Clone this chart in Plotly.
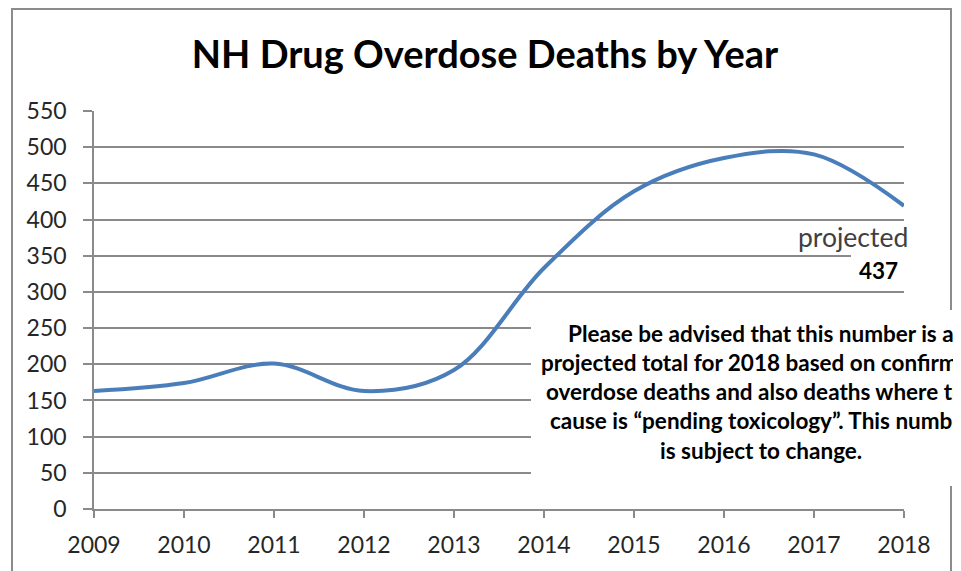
import plotly.graph_objects as go

# ---- data ----
years = [2009, 2010, 2011, 2012, 2013, 2014, 2015, 2016, 2017, 2018]
deaths = [163, 174, 201, 163, 192, 333, 439, 485, 490, 419]
y_ticks = list(range(0, 551, 50))
title_text = "NH Drug Overdose Deaths by Year"
note_lines = [
    "Please be advised that this number is a",
    "projected total for 2018 based on confirmed",
    "overdose deaths and also deaths where the",
    "cause is \u201cpending toxicology\u201d. This number",
    "is subject to change.",
]
projected_label = "projected"
projected_value = "437"

# ---- layout geometry (pixels, in reference-window coordinates) ----
OFF = 8  # page body margin
W, H = 961 - OFF, 571 - OFF
L, R, T, B = 94, 904, 111, 509


def px_x(p):
    return (p - L) / (R - L)


def px_y(p):
    return (B - p) / (B - T)


GRID = "#8a8a8a"
FONT = "Lato"

fig = go.Figure()
fig.add_trace(go.Scatter(
    x=years, y=deaths, mode="lines",
    line=dict(color="#4a7ebb", width=4, shape="spline", smoothing=1.0),
    hoverinfo="skip", showlegend=False,
))

shapes = [
    # outer chart border
    dict(type="rect", xref="paper", yref="paper", layer="above",
         x0=px_x(12), x1=px_x(951), y0=px_y(590), y1=px_y(9),
         line=dict(color="#8c8c8c", width=2), fillcolor="rgba(0,0,0,0)"),
    # white note box
    dict(type="rect", xref="paper", yref="paper", layer="above",
         x0=px_x(531), x1=px_x(975), y0=px_y(486), y1=px_y(310),
         line=dict(width=0), fillcolor="white"),
    # white box behind value label
    dict(type="rect", xref="paper", yref="paper", layer="above",
         x0=px_x(851), x1=px_x(910), y0=px_y(287), y1=px_y(248),
         line=dict(width=0), fillcolor="white"),
]

annotations = [
    dict(text=projected_label, xref="paper", yref="paper", x=px_x(853), y=px_y(237),
         xanchor="center", yanchor="middle", showarrow=False,
         font=dict(family=FONT, size=26.5, color="#404040")),
    dict(text="<b>" + projected_value + "</b>", xref="paper", yref="paper", x=px_x(878), y=px_y(270),
         xanchor="center", yanchor="middle", showarrow=False,
         font=dict(family=FONT, size=22.5, color="#000000")),
]
for line_text, ypx in zip(note_lines, [333, 362, 391, 420, 450]):
    annotations.append(dict(
        text="<b>" + line_text + "</b>", xref="paper", yref="paper",
        x=px_x(761), y=px_y(ypx), xanchor="center", yanchor="middle",
        showarrow=False, font=dict(family=FONT, size=22.5, color="#000000")))

fig.update_layout(
    width=W, height=H,
    margin=dict(l=L - OFF, r=(W + OFF) - R, t=T - OFF, b=(H + OFF) - B, autoexpand=False),
    paper_bgcolor="white", plot_bgcolor="white",
    title=dict(text="<b>" + title_text + "</b>", x=(485 - OFF) / W, xanchor="center",
               y=1 - (55 - OFF) / H, yanchor="middle", yref="container",
               font=dict(family=FONT, size=38, color="#000000")),
    shapes=shapes, annotations=annotations,
    font=dict(family=FONT),
)
fig.update_xaxes(
    range=[2009, 2018], tickmode="array", tickvals=years, ticktext=[str(v) for v in years],
    showgrid=False, zeroline=False, showline=True, linecolor=GRID, linewidth=1.5,
    ticks="outside", ticklen=7, tickcolor=GRID, tickwidth=1.5,
    tickfont=dict(family=FONT, size=23, color="#262626"), ticklabelstandoff=8,
)
fig.update_yaxes(
    range=[0, 550], tickmode="array", tickvals=y_ticks,
    showgrid=True, gridcolor=GRID, gridwidth=1.5, zeroline=False,
    showline=True, linecolor=GRID, linewidth=1.5,
    ticks="outside", ticklen=9, tickcolor=GRID, tickwidth=1.5,
    tickfont=dict(family=FONT, size=23, color="#262626"), ticklabelstandoff=12,
)

fig.write_html("out.html")
